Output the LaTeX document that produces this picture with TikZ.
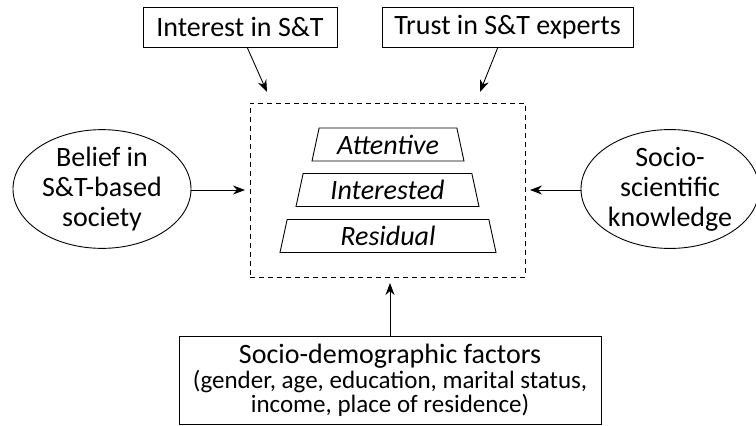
\documentclass[tikz,border=0pt]{standalone}
\usepackage{fontspec}
\setmainfont{Carlito}
\usetikzlibrary{shapes.geometric,arrows.meta}
\begin{document}
\begin{tikzpicture}[x=1pt,y=-1pt,
  line width=0.9pt,
  every node/.style={inner sep=0pt,outer sep=0pt},
  big/.style={font=\fontsize{28}{30}\selectfont},
  topbox/.style={draw,rectangle,big,minimum height=40pt},
  oval/.style={draw,ellipse,big,align=center,minimum width=178pt,minimum height=118pt},
  level/.style={draw,trapezium,trapezium left angle=70,trapezium right angle=70,
     trapezium stretches body,minimum height=33pt,font=\fontsize{28}{30}\selectfont\itshape},
  arr/.style={-{Stealth[length=12pt,width=9pt]},line width=0.9pt},
  groupbox/.style={draw,dashed,dash pattern=on 5pt off 4pt,minimum width=275pt,minimum height=174pt}
]
\useasboundingbox (0,0) rectangle (756,426);
\node[groupbox] (group) at (387.5,190) {};
\node[level,minimum width=152pt] (att) at (388,144.5) {Attentive};
\node[level,minimum width=183pt] (int) at (387.5,190) {Interested};
\node[level,minimum width=216pt] (res) at (388,236) {Residual};

\node[topbox,minimum width=194pt] (interest) at (240,27) {Interest in S\&T};
\node[topbox,minimum width=251pt] (trust) at (507.5,27) {Trust in S\&T experts};

\node[oval] (belief) at (102,189) {Belief in\\S\&T-based\\society};
\node[oval] (know) at (670,189) {Socio-\\scientific\\knowledge};

\node[draw,rectangle,minimum width=422pt,minimum height=88pt,align=center] (demo) at (390,380)
  {{\fontsize{28}{30}\selectfont Socio-demographic factors}\\[1pt]
   {\fontsize{25}{27}\selectfont (gender, age, education, marital status,}\\
   {\fontsize{25}{27}\selectfont income, place of residence)}};

\coordinate (t1) at (267,92);
\coordinate (t2) at (480,92);
\coordinate (t3) at (245,190);
\coordinate (t4) at (530,190);
\coordinate (t5) at (390,283);

\draw[arr] ([xshift=7pt]interest.south) -- (t1);
\draw[arr] ([xshift=-9.5pt]trust.south) -- (t2);
\draw[arr] (belief.east |- t3) -- (t3);
\draw[arr] (know.west |- t4) -- (t4);
\draw[arr] (demo.north) -- (t5);
\end{tikzpicture}
\end{document}
